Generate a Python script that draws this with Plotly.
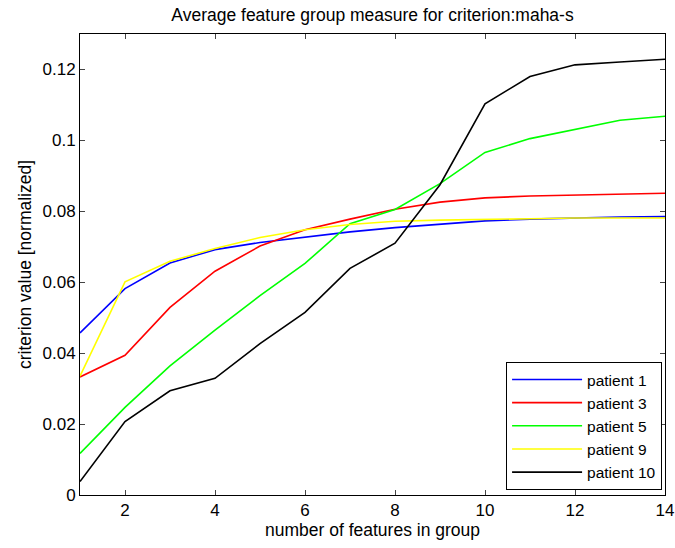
import plotly.graph_objects as go

n_features = list(range(1, 15))
patient_1 = [0.0457, 0.0582, 0.0654, 0.0692, 0.0712, 0.0728, 0.0742, 0.0754, 0.0764, 0.0773, 0.0778, 0.0782, 0.0784, 0.0785]
patient_3 = [0.0333, 0.0394, 0.0529, 0.0631, 0.0702, 0.0748, 0.0778, 0.0806, 0.0826, 0.0838, 0.0843, 0.0846, 0.0850, 0.0851]
patient_5 = [0.0117, 0.0247, 0.0364, 0.0465, 0.0562, 0.0653, 0.0765, 0.0805, 0.0878, 0.0966, 0.1005, 0.1032, 0.1057, 0.1068]
patient_9 = [0.0335, 0.0601, 0.0659, 0.0695, 0.0726, 0.0748, 0.0763, 0.0772, 0.0775, 0.0778, 0.0779, 0.0781, 0.0781, 0.0781]
patient_10 = [0.0038, 0.0207, 0.0294, 0.0329, 0.0427, 0.0515, 0.0639, 0.0710, 0.0875, 0.1103, 0.1180, 0.1213, 0.1221, 0.1229]

series = [
    ("patient 1", patient_1, "#0000ff"),
    ("patient 3", patient_3, "#ff0000"),
    ("patient 5", patient_5, "#00ff00"),
    ("patient 9", patient_9, "#ffff00"),
    ("patient 10", patient_10, "#000000"),
]

y_ticks = [0, 0.02, 0.04, 0.06, 0.08, 0.1, 0.12]
y_tick_labels = ["0", "0.02", "0.04", "0.06", "0.08", "0.1", "0.12"]
x_ticks = [2, 4, 6, 8, 10, 12, 14]

fig = go.Figure()
for name, vals, col in series:
    fig.add_trace(go.Scatter(x=n_features, y=vals, mode="lines", name=name,
                             line=dict(color=col, width=1.6)))

font = "Liberation Sans, Arial, Helvetica, sans-serif"
fig.update_layout(
    width=675, height=548,
    margin=dict(l=80, r=10, t=34, b=53),
    paper_bgcolor="white", plot_bgcolor="white",
    font=dict(family=font, size=17, color="black"),
    title=dict(text="Average feature group measure for criterion:maha-s",
               x=(80 + 585 / 2) / 675, xanchor="center", y=1 - 15 / 548, yanchor="middle",
               font=dict(size=17.5, family=font, color="black")),
    showlegend=True,
    legend=dict(x=0.995, y=0.011, xanchor="right", yanchor="bottom",
                bgcolor="white", bordercolor="black", borderwidth=1,
                font=dict(size=15.5, family=font), itemwidth=70, tracegroupgap=0),
)
fig.update_xaxes(range=[1, 14], tickvals=x_ticks, ticks="inside", ticklen=5,
                 showline=True, linecolor="black", linewidth=1, mirror="ticks",
                 showgrid=False, zeroline=False, automargin=False,
                 title=dict(text="number of features in group", standoff=4, font=dict(size=17.5)),
                 tickfont=dict(size=17))
fig.update_yaxes(range=[0, 0.13], tickvals=y_ticks, ticktext=y_tick_labels,
                 ticks="inside", ticklen=5,
                 showline=True, linecolor="black", linewidth=1, mirror="ticks",
                 showgrid=False, zeroline=False, automargin=False,
                 title=dict(text="criterion value [normalized]", standoff=6, font=dict(size=17.5)),
                 tickfont=dict(size=17))

fig.write_html("out.html")
